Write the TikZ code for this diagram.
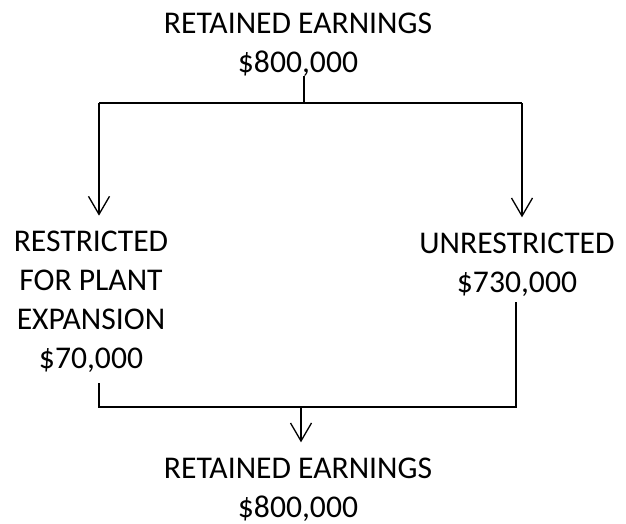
\documentclass[tikz,border=0pt]{standalone}
\usepackage{fontspec}
\setmainfont{Carlito}
\usetikzlibrary{arrows.meta,calc}
\newcommand{\ChartFont}{\fontsize{18}{22.1}\selectfont}

\begin{document}
\begin{tikzpicture}[x=.02cm,y=-.02cm,text=black,
  amount/.style={font=\ChartFont,align=center,anchor=base,inner sep=0pt},
  bracket/.style={draw=black,line width=1.4pt,line cap=butt,line join=miter},
  flow/.style={draw=black,line width=.75pt,-{Straight Barb[length=.36cm,width=.42cm,line width=.75pt]}}]
  \useasboundingbox (0,0) rectangle (626,524);
  % balances (placed at the baseline of their last line)
  \node[amount] (top) at (298,72) {RETAINED EARNINGS\\\$800,000};
  \node[amount] (restricted) at (91,368) {RESTRICTED\\FOR PLANT\\EXPANSION\\\$70,000};
  \node[amount] (unrestricted) at (517,292) {UNRESTRICTED\\\$730,000};
  \node[amount] (bottom) at (298,517) {RETAINED EARNINGS\\\$800,000};
  % split
  \coordinate (split) at (304,103);
  \coordinate (lsplit) at (99,103);
  \coordinate (rsplit) at (522,103);
  \draw[bracket] (top.south -| split) -- (split);
  \draw[bracket] (lsplit) -- (rsplit);
  \draw[flow] (lsplit) -- ($(restricted.north -| lsplit)+(0,.3cm)$);
  \draw[flow] (rsplit) -- ($(unrestricted.north -| rsplit)+(0,.3cm)$);
  % join
  \coordinate (join) at (301,407);
  \coordinate (ljoin) at (99,407);
  \coordinate (rjoin) at (516,407);
  \draw[bracket] ($(restricted.south -| ljoin)+(0,-.22cm)$) -- (ljoin) -- (rjoin)
    -- ($(unrestricted.south -| rjoin)+(0,-.12cm)$);
  \draw[flow] (join) -- ($(bottom.north -| join)+(0,.3cm)$);
\end{tikzpicture}
\end{document}
